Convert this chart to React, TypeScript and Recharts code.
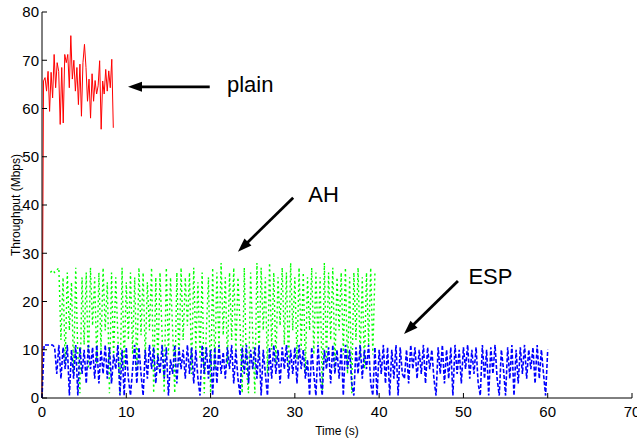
import { LineChart, Line, XAxis, YAxis, ReferenceLine, ReferenceDot } from 'recharts';

const X_TICKS = [0, 10, 20, 30, 40, 50, 60, 70];
const Y_TICKS = [0, 10, 20, 30, 40, 50, 60, 70, 80];

// plain: sampled every 0.18 s from t = 0
const PLAIN_START = 0;
const PLAIN_STEP = 0.18;
const PLAIN_VALUES = [
  0, 65.7, 66.4, 63.6, 67.7, 59.4, 67.5, 62.2, 71.2, 64.3, 69.5, 67.7, 56.7, 68.5, 57, 71.2,
  69.5, 71.2, 64.3, 75.1, 66.1, 70, 63.6, 68.5, 60.8, 69.2, 58.4, 69.5, 73.3, 68.5, 61.5,
  66.1, 58, 67.2, 61.5, 65.8, 63, 64.7, 69.9, 55.7, 65.7, 63, 68.1, 63.6, 67.8, 64.3, 70.2, 56,
];

// AH: sampled every 0.25 s from t = 1
const AH_START = 1;
const AH_STEP = 0.25;
const AH_VALUES = [
  26, 26.5, 26, 26.5,
  27, 12, 25, 7, 26, 14, 24, 5, 27, 9, 1, 25, 11, 26, 6, 27,
  15, 25, 7, 26, 10, 27, 14, 24, 1, 26, 8, 25, 13, 1, 27, 6,
  24, 12, 26, 9, 25, 5, 27, 13, 26, 8, 24, 14, 27, 1, 25, 6,
  26, 13, 1, 27, 9, 25, 14, 1, 26, 7, 27, 12, 25, 15, 26, 5,
  27, 10, 24, 8, 26, 1, 14, 25, 1, 27, 6, 26, 10, 28, 13, 25,
  7, 26, 12, 27, 9, 25, 15, 1, 27, 6, 1, 26, 13, 1, 28, 8,
  27, 14, 25, 5, 28, 10, 26, 7, 25, 15, 27, 11, 26, 6, 28, 14,
  25, 8, 27, 10, 26, 5, 25, 14, 27, 9, 26, 11, 25, 1, 28, 7,
  26, 12, 27, 6, 25, 14, 26, 9, 27, 5, 25, 1, 26, 12, 27, 8,
  25, 6, 26, 11, 27, 9, 26,
];

// ESP: sampled every 0.25 s from t = 0
const ESP_START = 0;
const ESP_STEP = 0.25;
const ESP_VALUES = [
  0, 11, 11, 11, 11, 11, 10.5, 5, 11, 4, 10.5, 6, 11, 0.5, 10, 4,
  11, 0.5, 10.5, 5, 10, 3, 11, 6, 10.5, 4, 11, 3, 10, 5, 11, 4,
  10.5, 3, 9, 6, 11, 0.5, 10, 0.5, 10.5, 4, 0.5, 6, 11, 3, 10.5, 5,
  0.5, 10, 4, 11, 6, 10.5, 3, 9, 5, 11, 4, 10.5, 0.5, 8, 5, 11,
  3, 10.5, 6, 10, 4, 11, 5, 10.5, 3, 10, 4, 0.5, 11, 5, 10.5, 4,
  10, 0.5, 10.5, 3, 11, 5, 9.5, 4, 10.5, 6, 11, 3, 10, 4, 0.5, 10.5,
  5, 11, 3, 10, 6, 10.5, 4, 11, 0.5, 10, 5, 0.5, 10.5, 4, 11, 5,
  10, 3, 10.5, 6, 11, 4, 10, 5, 10.5, 3, 11, 6, 10, 4, 8, 0.5,
  10.5, 5, 0.5, 11, 4, 0.5, 10, 6, 10.5, 3, 11, 5, 10, 4, 10.5, 0.5,
  11, 6, 10, 3, 0.5, 10.5, 5, 11, 4, 10, 6, 11, 3, 0.5, 10.5, 0.5,
  10, 5, 11, 3, 10.5, 0.5, 10, 4, 11, 0.5, 10.5, 5, 4, 10, 3, 11,
  6, 10.5, 4, 10, 5, 11, 3, 10.5, 6, 10, 4, 0.5, 10.5, 5, 11, 3,
  10, 4, 10.5, 0.5, 11, 5, 10, 3, 10.5, 6, 11, 4, 10, 5, 10.5, 3,
  0.5, 11, 4, 10, 0.5, 10.5, 5, 11, 4, 0.5, 10, 6, 0.5, 10.5, 4, 11,
  0.5, 10, 3, 10.5, 5, 11, 4, 10, 6, 10.5, 3, 11, 4, 10, 5, 0.5,
  10,
];

const ANNOTATIONS = [
  { label: 'plain', from: [19.9, 64.5], to: [10.2, 64.5], text: [24.7, 63.5] },
  { label: 'AH', from: [29.8, 41.5], to: [23.25, 30.3], text: [33.4, 40.7] },
  { label: 'ESP', from: [49.35, 24.25], to: [42.95, 13.26], text: [53.2, 23.6] },
];

const toSeries = (start: number, step: number, values: number[]) =>
  values.map((v, i) => ({ t: +(start + i * step).toFixed(3), v }));

const plain = toSeries(PLAIN_START, PLAIN_STEP, PLAIN_VALUES);
const ah = toSeries(AH_START, AH_STEP, AH_VALUES);
const esp = toSeries(ESP_START, ESP_STEP, ESP_VALUES);

const FONT = '"Liberation Sans", Arial, sans-serif';
const TICK_LEN = 5;

const BottomTick = (p: any) => (
  <g>
    <line x1={p.x} y1={p.y - 8} x2={p.x} y2={p.y - 8 - TICK_LEN} stroke="#000" />
    <text x={p.x} y={p.y} dy="0.71em" textAnchor="middle" fontSize={15} fontFamily={FONT} fill="#000">
      {p.payload.value}
    </text>
  </g>
);

const LeftTick = (p: any) => (
  <g>
    <line x1={p.x + 3} y1={p.y} x2={p.x + 3 + TICK_LEN} y2={p.y} stroke="#000" />
    <text x={p.x} y={p.y} dy="0.355em" textAnchor="end" fontSize={15} fontFamily={FONT} fill="#000">
      {p.payload.value}
    </text>
  </g>
);

const TopTick = (p: any) => <line x1={p.x} y1={p.y} x2={p.x} y2={p.y + TICK_LEN} stroke="#000" />;
const RightTick = (p: any) => <line x1={p.x} y1={p.y} x2={p.x - TICK_LEN} y2={p.y} stroke="#000" />;

const Arrow = (p: any) => {
  const { x1, y1, x2, y2 } = p;
  const dx = x2 - x1;
  const dy = y2 - y1;
  const len = Math.hypot(dx, dy);
  const ux = dx / len;
  const uy = dy / len;
  const hl = 14;
  const hw = 5;
  const bx = x2 - ux * hl;
  const by = y2 - uy * hl;
  return (
    <g>
      <line x1={x1} y1={y1} x2={bx + ux * 2} y2={by + uy * 2} stroke="#000" strokeWidth={2.8} />
      <polygon
        points={`${x2},${y2} ${bx - uy * hw},${by + ux * hw} ${bx + uy * hw},${by - ux * hw}`}
        fill="#000"
      />
    </g>
  );
};

export default function App() {
  return (
    <div style={{ position: 'absolute', left: 0, top: 0, background: '#fff' }}>
      <LineChart width={637} height={438} margin={{ top: 12, right: 5, bottom: 0, left: 0 }}>
        <XAxis
          xAxisId="b"
          type="number"
          dataKey="t"
          domain={[0, 70]}
          ticks={X_TICKS}
          interval={0}
          height={40}
          tickSize={0}
          tickMargin={8}
          axisLine={{ stroke: '#000' }}
          tick={BottomTick}
          label={{ value: 'Time (s)', position: 'insideBottom', offset: 3, fontSize: 12, fontFamily: FONT, fill: '#000' }}
        />
        <XAxis
          xAxisId="top"
          orientation="top"
          type="number"
          dataKey="t"
          domain={[0, 70]}
          ticks={X_TICKS}
          interval={0}
          height={0}
          tickSize={0}
          tickMargin={0}
          axisLine={{ stroke: '#000' }}
          tick={TopTick}
        />
        <YAxis
          yAxisId="l"
          type="number"
          domain={[0, 80]}
          ticks={Y_TICKS}
          interval={0}
          width={42}
          tickSize={0}
          tickMargin={3}
          axisLine={{ stroke: '#000' }}
          tick={LeftTick}
          label={{
            value: 'Throughput (Mbps)',
            angle: -90,
            position: 'insideLeft',
            offset: 16,
            fontSize: 12,
            fontFamily: FONT,
            fill: '#000',
            style: { textAnchor: 'middle' },
          }}
        />
        <YAxis
          yAxisId="r"
          orientation="right"
          type="number"
          domain={[0, 80]}
          ticks={Y_TICKS}
          interval={0}
          width={0}
          tickSize={0}
          tickMargin={0}
          axisLine={{ stroke: '#000' }}
          tick={RightTick}
        />
        <Line xAxisId="b" yAxisId="l" data={plain} dataKey="v" type="linear" stroke="#ff0000" strokeWidth={1} dot={false} isAnimationActive={false} />
        <Line xAxisId="b" yAxisId="l" data={ah} dataKey="v" type="linear" stroke="#00ff00" strokeWidth={1.4} strokeDasharray="2 3" dot={false} isAnimationActive={false} />
        <Line xAxisId="b" yAxisId="l" data={esp} dataKey="v" type="linear" stroke="#0000ff" strokeWidth={1.6} strokeDasharray="4 2" dot={false} isAnimationActive={false} />
        {ANNOTATIONS.map((a) => (
          <ReferenceLine
            key={`arrow-${a.label}`}
            xAxisId="b"
            yAxisId="l"
            segment={[{ x: a.from[0], y: a.from[1] }, { x: a.to[0], y: a.to[1] }]}
            shape={Arrow}
          />
        ))}
        {ANNOTATIONS.map((a) => (
          <ReferenceDot
            key={`text-${a.label}`}
            xAxisId="b"
            yAxisId="l"
            x={a.text[0]}
            y={a.text[1]}
            shape={(p: any) => (
              <text x={p.cx} y={p.cy} textAnchor="middle" fontSize={22} fontFamily={FONT} fill="#000">
                {a.label}
              </text>
            )}
          />
        ))}
      </LineChart>
    </div>
  );
}
